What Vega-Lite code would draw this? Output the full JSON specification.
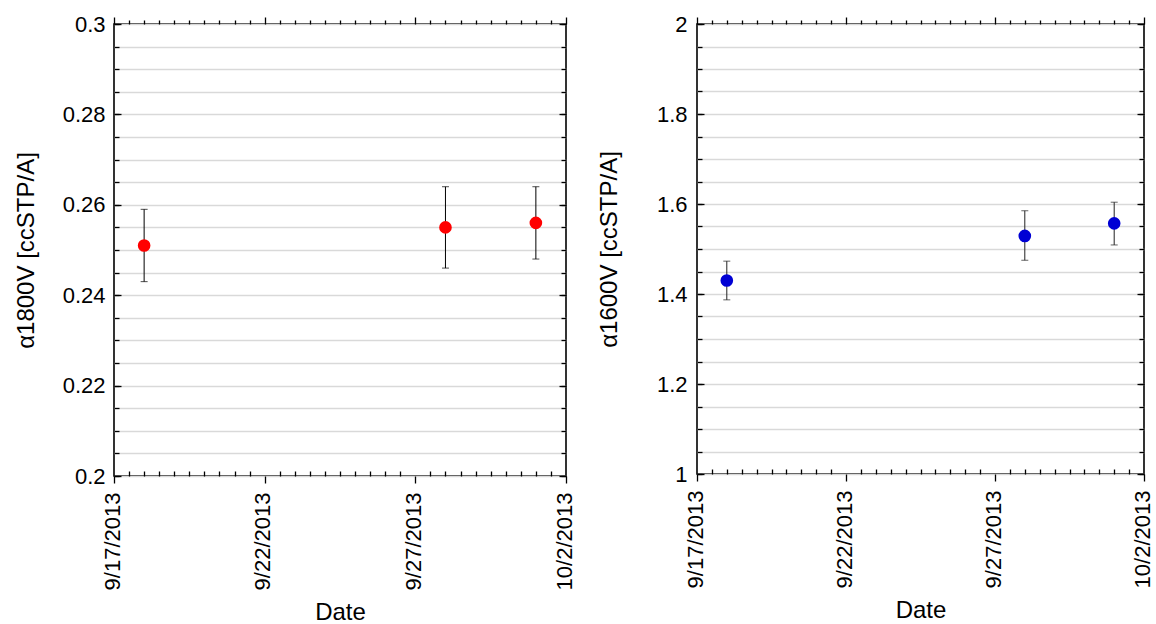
{
  "$schema": "https://vega.github.io/schema/vega-lite/v6.json",
  "padding": {"left": 13, "top": 12, "right": 0, "bottom": 0},
  "background": "white",
  "spacing": 20,
  "datasets": {
    "left": [
      {"date": "2013/09/18", "value": 0.251, "lo": 0.243, "hi": 0.259},
      {"date": "2013/09/28", "value": 0.255, "lo": 0.246, "hi": 0.264},
      {"date": "2013/10/01", "value": 0.256, "lo": 0.248, "hi": 0.264}
    ],
    "right": [
      {"date": "2013/09/18", "value": 1.43, "lo": 1.387, "hi": 1.473},
      {"date": "2013/09/28", "value": 1.529, "lo": 1.475, "hi": 1.585},
      {"date": "2013/10/01", "value": 1.557, "lo": 1.509, "hi": 1.604}
    ]
  },
  "config": {
    "font": "Liberation Sans",
    "view": {"stroke": "black", "strokeWidth": 1.6},
    "axis": {
      "domain": false,
      "grid": false,
      "tickColor": "black",
      "tickWidth": 1.3,
      "labelColor": "black",
      "titleColor": "black",
      "labelFont": "Liberation Sans",
      "titleFont": "Liberation Sans",
      "labelFontSize": 22,
      "titleFontSize": 24,
      "titleFontWeight": "normal",
      "labelFlush": false,
      "labelOverlap": false
    }
  },
  "hconcat": [
    {
      "width": 452,
      "height": 452,
      "data": {"name": "left"},
      "resolve": {"axis": {"x": "independent", "y": "independent"}},
      "layer": [
        {
          "mark": {"type": "rule", "color": "black", "strokeWidth": 1},
          "encoding": {
            "x": {"field": "date", "type": "temporal",
              "scale": {"domain": ["2013/09/17", "2013/10/02"]},
              "axis": {"orient": "bottom", "values": ["2013/09/17", "2013/09/22", "2013/09/27", "2013/10/02"],
                "format": "%-m/%-d/%Y", "labelAngle": -90, "labelOffset": -2, "tickSize": 7, "labelPadding": 9, "title": "Date", "titlePadding": 11}},
            "y": {"field": "hi", "type": "quantitative",
              "scale": {"domain": [0.2, 0.3], "nice": false, "zero": false},
              "axis": {"orient": "left", "values": [0.2, 0.22, 0.24, 0.26, 0.28, 0.3], "format": "~g", "tickSize": -7, "labelPadding": 16, "title": "α1800V [ccSTP/A]", "titlePadding": 24}},
            "y2": {"field": "lo"}
          }
        },
        {
          "mark": {"type": "tick", "orient": "horizontal", "size": 7, "thickness": 1, "color": "black"},
          "encoding": {
            "x": {"field": "date", "type": "temporal",
              "axis": {"orient": "bottom", "values": ["2013/09/17 12:00", "2013/09/18", "2013/09/18 12:00", "2013/09/19", "2013/09/19 12:00", "2013/09/20", "2013/09/20 12:00", "2013/09/21", "2013/09/21 12:00", "2013/09/22 12:00", "2013/09/23", "2013/09/23 12:00", "2013/09/24", "2013/09/24 12:00", "2013/09/25", "2013/09/25 12:00", "2013/09/26", "2013/09/26 12:00", "2013/09/27 12:00", "2013/09/28", "2013/09/28 12:00", "2013/09/29", "2013/09/29 12:00", "2013/09/30", "2013/09/30 12:00", "2013/10/01", "2013/10/01 12:00"], "labels": false, "tickSize": -5, "title": null}},
            "y": {"field": "lo", "type": "quantitative",
              "axis": {"orient": "left", "values": [0.2, 0.205, 0.21, 0.215, 0.22, 0.225, 0.23, 0.235, 0.24, 0.245, 0.25, 0.255, 0.26, 0.265, 0.27, 0.275, 0.28, 0.285, 0.29, 0.295, 0.3],
                "labels": false, "tickSize": -5, "title": null, "grid": true, "gridColor": "#d9d9d9", "gridWidth": 1.5}}
          }
        },
        {
          "mark": {"type": "tick", "orient": "horizontal", "size": 7, "thickness": 1, "color": "black"},
          "encoding": {
            "x": {"field": "date", "type": "temporal",
              "axis": {"orient": "top", "values": ["2013/09/17", "2013/09/22", "2013/09/27", "2013/10/02"], "labels": false, "tickSize": 7, "title": null}},
            "y": {"field": "hi", "type": "quantitative",
              "axis": {"orient": "right", "values": [0.2, 0.22, 0.24, 0.26, 0.28, 0.3], "labels": false, "tickSize": -7, "title": null}}
          }
        },
        {
          "mark": {"type": "circle", "color": "#ff0000", "opacity": 1, "size": 160},
          "encoding": {
            "x": {"field": "date", "type": "temporal",
              "axis": {"orient": "top", "values": ["2013/09/17 12:00", "2013/09/18", "2013/09/18 12:00", "2013/09/19", "2013/09/19 12:00", "2013/09/20", "2013/09/20 12:00", "2013/09/21", "2013/09/21 12:00", "2013/09/22 12:00", "2013/09/23", "2013/09/23 12:00", "2013/09/24", "2013/09/24 12:00", "2013/09/25", "2013/09/25 12:00", "2013/09/26", "2013/09/26 12:00", "2013/09/27 12:00", "2013/09/28", "2013/09/28 12:00", "2013/09/29", "2013/09/29 12:00", "2013/09/30", "2013/09/30 12:00", "2013/10/01", "2013/10/01 12:00"], "labels": false, "tickSize": 4, "title": null}},
            "y": {"field": "value", "type": "quantitative",
              "axis": {"orient": "right", "values": [0.2, 0.205, 0.21, 0.215, 0.22, 0.225, 0.23, 0.235, 0.24, 0.245, 0.25, 0.255, 0.26, 0.265, 0.27, 0.275, 0.28, 0.285, 0.29, 0.295, 0.3], "labels": false, "tickSize": -5, "title": null}}
          }
        }
      ]
    },
    {
      "width": 447,
      "height": 450,
      "data": {"name": "right"},
      "resolve": {"axis": {"x": "independent", "y": "independent"}},
      "layer": [
        {
          "mark": {"type": "rule", "color": "#222222", "strokeWidth": 1},
          "encoding": {
            "x": {"field": "date", "type": "temporal",
              "scale": {"domain": ["2013/09/17", "2013/10/02"]},
              "axis": {"orient": "bottom", "values": ["2013/09/17", "2013/09/22", "2013/09/27", "2013/10/02"],
                "format": "%-m/%-d/%Y", "labelAngle": -90, "labelOffset": -2, "tickSize": 7, "labelPadding": 9, "title": "Date", "titlePadding": 11}},
            "y": {"field": "hi", "type": "quantitative",
              "scale": {"domain": [1, 2], "nice": false, "zero": false},
              "axis": {"orient": "left", "values": [1, 1.2, 1.4, 1.6, 1.8, 2], "format": "~g", "tickSize": -7, "labelPadding": 17, "title": "α1600V [ccSTP/A]", "titlePadding": 35}},
            "y2": {"field": "lo"}
          }
        },
        {
          "mark": {"type": "tick", "orient": "horizontal", "size": 7, "thickness": 1, "color": "#222222"},
          "encoding": {
            "x": {"field": "date", "type": "temporal",
              "axis": {"orient": "bottom", "values": ["2013/09/17 12:00", "2013/09/18", "2013/09/18 12:00", "2013/09/19", "2013/09/19 12:00", "2013/09/20", "2013/09/20 12:00", "2013/09/21", "2013/09/21 12:00", "2013/09/22 12:00", "2013/09/23", "2013/09/23 12:00", "2013/09/24", "2013/09/24 12:00", "2013/09/25", "2013/09/25 12:00", "2013/09/26", "2013/09/26 12:00", "2013/09/27 12:00", "2013/09/28", "2013/09/28 12:00", "2013/09/29", "2013/09/29 12:00", "2013/09/30", "2013/09/30 12:00", "2013/10/01", "2013/10/01 12:00"], "labels": false, "tickSize": -5, "title": null}},
            "y": {"field": "lo", "type": "quantitative",
              "axis": {"orient": "left", "values": [1, 1.05, 1.1, 1.15, 1.2, 1.25, 1.3, 1.35, 1.4, 1.45, 1.5, 1.55, 1.6, 1.65, 1.7, 1.75, 1.8, 1.85, 1.9, 1.95, 2],
                "labels": false, "tickSize": -5, "title": null, "grid": true, "gridColor": "#d9d9d9", "gridWidth": 1.5}}
          }
        },
        {
          "mark": {"type": "tick", "orient": "horizontal", "size": 7, "thickness": 1, "color": "#222222"},
          "encoding": {
            "x": {"field": "date", "type": "temporal",
              "axis": {"orient": "top", "values": ["2013/09/17", "2013/09/22", "2013/09/27", "2013/10/02"], "labels": false, "tickSize": 7, "title": null}},
            "y": {"field": "hi", "type": "quantitative",
              "axis": {"orient": "right", "values": [1, 1.2, 1.4, 1.6, 1.8, 2], "labels": false, "tickSize": -7, "title": null}}
          }
        },
        {
          "mark": {"type": "circle", "color": "#0000d4", "opacity": 1, "size": 160},
          "encoding": {
            "x": {"field": "date", "type": "temporal",
              "axis": {"orient": "top", "values": ["2013/09/17 12:00", "2013/09/18", "2013/09/18 12:00", "2013/09/19", "2013/09/19 12:00", "2013/09/20", "2013/09/20 12:00", "2013/09/21", "2013/09/21 12:00", "2013/09/22 12:00", "2013/09/23", "2013/09/23 12:00", "2013/09/24", "2013/09/24 12:00", "2013/09/25", "2013/09/25 12:00", "2013/09/26", "2013/09/26 12:00", "2013/09/27 12:00", "2013/09/28", "2013/09/28 12:00", "2013/09/29", "2013/09/29 12:00", "2013/09/30", "2013/09/30 12:00", "2013/10/01", "2013/10/01 12:00"], "labels": false, "tickSize": 4, "title": null}},
            "y": {"field": "value", "type": "quantitative",
              "axis": {"orient": "right", "values": [1, 1.05, 1.1, 1.15, 1.2, 1.25, 1.3, 1.35, 1.4, 1.45, 1.5, 1.55, 1.6, 1.65, 1.7, 1.75, 1.8, 1.85, 1.9, 1.95, 2], "labels": false, "tickSize": -5, "title": null}}
          }
        }
      ]
    }
  ]
}
